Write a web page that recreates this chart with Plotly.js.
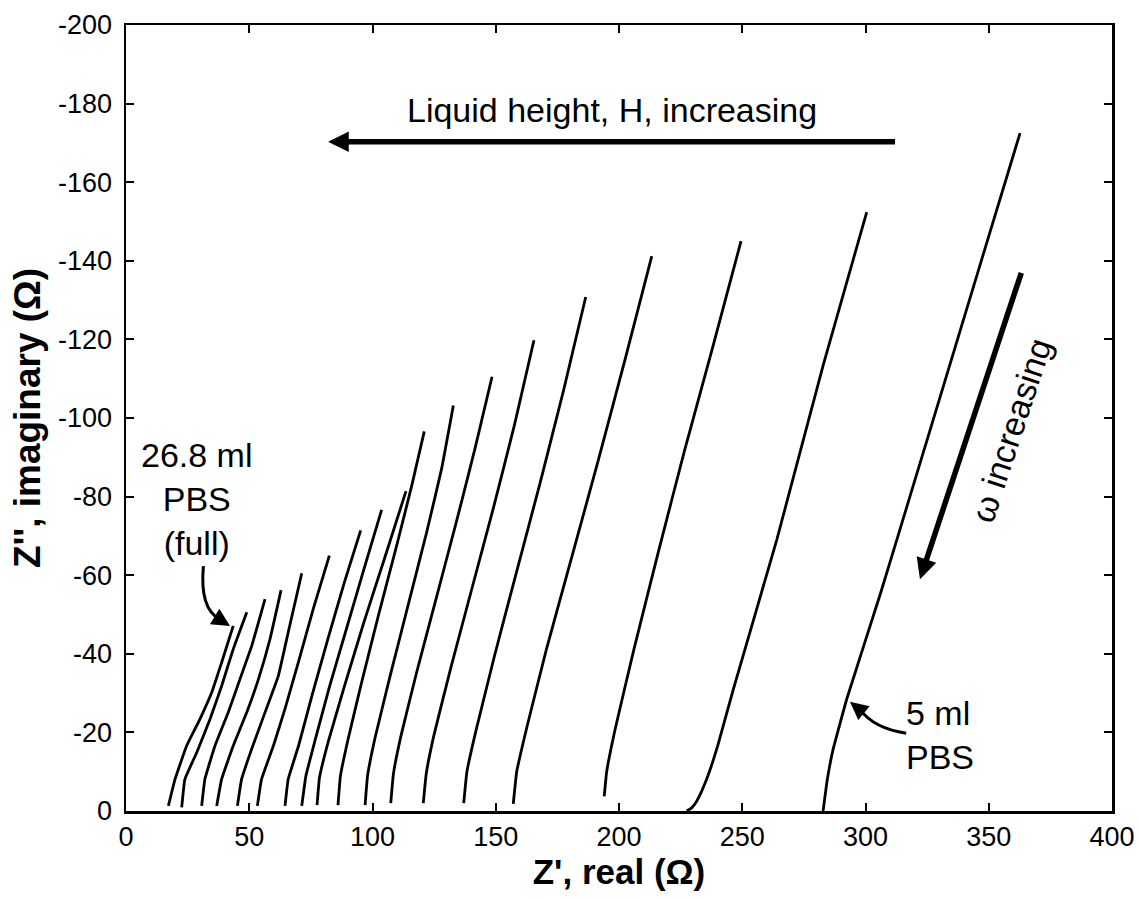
<!DOCTYPE html>
<html>
<head>
<meta charset="utf-8">
<script src="https://cdn.plot.ly/plotly-3.0.1.min.js"></script>
<style>
html,body{margin:0;padding:0;background:#fff;}
#chart{width:1139px;height:899px;}
</style>
</head>
<body>
<div id="chart"></div>
<script>
// Nyquist curves, from 26.8 ml PBS (full, leftmost) to 5 ml PBS (rightmost)
const c01x = [17.2, 19.9, 24.6, 30.0, 34.8, 38.8, 43.5];
const c01y = [-1.3, -8.1, -16.6, -23.4, -30.2, -37.8, -47.1];
const c02x = [22.6, 23.9, 28.7, 34.1, 38.8, 43.5, 49.0];
const c02y = [-0.9, -8.1, -14.9, -23.4, -31.8, -41.2, -50.6];
const c03x = [30.7, 32.0, 36.1, 41.5, 46.2, 51.0, 56.4];
const c03y = [-1.3, -8.1, -16.6, -25.1, -33.5, -42.0, -53.9];
const c04x = [36.8, 38.8, 43.5, 49.0, 53.7, 58.4, 62.9];
const c04y = [-1.3, -8.1, -16.6, -25.1, -33.5, -43.7, -56.2];
const c05x = [45.2, 46.9, 51.0, 56.4, 61.8, 66.0, 71.3];
const c05y = [-1.3, -8.1, -15.8, -25.1, -34.4, -46.0, -60.5];
const c06x = [53.3, 55.0, 59.8, 64.5, 70.0, 76.0, 82.5];
const c06y = [-1.3, -8.1, -16.6, -26.0, -38.0, -51.5, -65.0];
const c07x = [64.5, 65.8, 70.0, 75.5, 82.0, 88.5, 95.2];
const c07y = [-1.3, -8.1, -16.6, -29.5, -44.0, -58.0, -71.4];
const c08x = [71.3, 73.0, 76.5, 82.5, 89.5, 96.5, 103.7];
const c08y = [-1.3, -9.0, -17.5, -31.5, -46.5, -61.5, -76.6];
const c09x = [77.5, 78.5, 82.0, 88.5, 96.5, 105.0, 113.6];
const c09y = [-1.5, -8.5, -17.5, -31.5, -48.0, -64.5, -81.4];
const c10x = [86.0, 87.0, 90.0, 95.5, 102.5, 110.0, 116.0, 121.0];
const c10y = [-1.5, -9.0, -18.0, -32.5, -50.0, -68.0, -83.0, -96.6];
const c11x = [97.0, 98.0, 101.0, 107.0, 114.5, 122.0, 128.0, 132.8];
const c11y = [-1.5, -9.0, -18.5, -34.0, -52.5, -71.0, -87.0, -103.2];
const c12x = [107.4, 108.5, 111.5, 118.0, 126.0, 134.0, 141.5, 148.5];
const c12y = [-2.0, -9.5, -19.0, -35.5, -54.5, -73.5, -92.0, -110.5];
const c13x = [120.6, 121.8, 125.0, 132.0, 140.5, 149.0, 157.5, 165.5];
const c13y = [-2.0, -9.5, -19.5, -37.0, -57.0, -77.0, -98.0, -119.8];
const c14x = [137.0, 138.3, 142.0, 149.5, 158.5, 168.0, 177.5, 186.5];
const c14y = [-2.0, -10.0, -20.5, -39.5, -61.0, -83.5, -107.0, -130.8];
const c15x = [157.1, 158.5, 162.5, 170.5, 181.0, 191.5, 202.5, 213.3];
const c15y = [-1.8, -10.0, -21.0, -41.0, -65.0, -89.0, -115.0, -141.2];
const c16x = [194.0, 195.0, 198.5, 206.0, 216.0, 226.5, 238.0, 249.5];
const c16y = [-3.7, -10.0, -21.0, -41.0, -66.0, -91.5, -118.0, -145.0];
const c17x = [227.5, 229.5, 231.5, 233.5, 235.5, 237.5, 240.0, 246.4, 264.0, 282.9, 300.5];
const c17y = [0.0, -0.8, -2.5, -5.0, -8.0, -11.5, -16.5, -31.0, -69.0, -113.6, -152.4];
const c18x = [282.8, 284.5, 286.9, 292.4, 306.2, 318.5, 331.6, 346.3, 362.7];
const c18y = [0.0, -8.0, -15.8, -28.5, -55.6, -81.0, -108.1, -138.6, -172.5];

const xTicks = [0, 50, 100, 150, 200, 250, 300, 350, 400];
const yTicks = [0, -20, -40, -60, -80, -100, -120, -140, -160, -180, -200];

const curvesX = [c01x,c02x,c03x,c04x,c05x,c06x,c07x,c08x,c09x,c10x,c11x,c12x,c13x,c14x,c15x,c16x,c17x,c18x];
const curvesY = [c01y,c02y,c03y,c04y,c05y,c06y,c07y,c08y,c09y,c10y,c11y,c12y,c13y,c14y,c15y,c16y,c17y,c18y];

const traces = curvesX.map((xs, i) => ({
  x: xs, y: curvesY[i], type: 'scatter', mode: 'lines',
  line: {color: '#000', width: 2.8, shape: 'spline', smoothing: 0.3}, showlegend: false, hoverinfo: 'skip'
}));

const tickFont = {family: 'Liberation Sans, Arial, sans-serif', size: 27, color: '#000'};
const textFont = {family: 'Liberation Sans, Arial, sans-serif', size: 34, color: '#000'};

const layout = {
  width: 1139, height: 899,
  margin: {l: 126, r: 27, t: 25, b: 88},
  paper_bgcolor: '#fff', plot_bgcolor: '#fff',
  showlegend: false,
  xaxis: {
    range: [0, 400], tickvals: xTicks, ticktext: xTicks.map(String),
    ticks: 'inside', ticklen: 8, tickwidth: 2, tickcolor: '#000',
    showline: true, linecolor: '#000', linewidth: 2.5, mirror: 'ticks',
    showgrid: false, zeroline: false, tickfont: tickFont, ticklabelstandoff: 0,
    title: {text: "<b>Z', real (Ω)</b>", font: {family: 'Liberation Sans, Arial, sans-serif', size: 35, color: '#000'}, standoff: 8}
  },
  yaxis: {
    range: [0, -200], tickvals: yTicks, ticktext: yTicks.map(String),
    ticks: 'inside', ticklen: 8, tickwidth: 2, tickcolor: '#000',
    showline: true, linecolor: '#000', linewidth: 2.5, mirror: 'ticks',
    showgrid: false, zeroline: false, tickfont: tickFont, ticklabelstandoff: 6,
    title: {text: "<b>Z'', imaginary (Ω)</b>", font: {family: 'Liberation Sans, Arial, sans-serif', size: 37, color: '#000'}, standoff: 6}
  },
  shapes: [
    {type: 'path', xref: 'x', yref: 'y', path: 'M31.4,-62.3 Q29.8,-51.5 38.0,-48.8', line: {color: '#000', width: 3}},
    {type: 'path', xref: 'x', yref: 'y', path: 'M316.5,-19.8 Q303.5,-21.0 297.8,-25.8', line: {color: '#000', width: 3}}
  ],
  annotations: [
    {x: 197, y: -178.4, xref: 'x', yref: 'y', text: 'Liquid height, H, increasing', showarrow: false, font: textFont},
    {x: 82, y: -170.3, ax: 312.6, ay: -170.3, xref: 'x', yref: 'y', axref: 'x', ayref: 'y', text: '', showarrow: true, arrowhead: 2, arrowwidth: 5.5, arrowsize: 0.75, arrowcolor: '#000'},
    {x: 322.1, y: -59, ax: 363.4, ay: -137.3, xref: 'x', yref: 'y', axref: 'x', ayref: 'y', text: '', showarrow: true, arrowhead: 2, arrowwidth: 5.5, arrowsize: 0.75, arrowcolor: '#000'},
    {x: 359, y: -97, xref: 'x', yref: 'y', text: 'ω increasing', textangle: -71.7, showarrow: false, font: textFont},
    {x: 28.7, y: -79.5, xref: 'x', yref: 'y', text: '26.8 ml<br>PBS<br>(full)', align: 'center', showarrow: false, font: textFont},
    {x: 42.2, y: -47.1, ax: 37.5, ay: -48.9, xref: 'x', yref: 'y', axref: 'x', ayref: 'y', text: '', showarrow: true, arrowhead: 2, arrowwidth: 3, arrowsize: 1.2, arrowcolor: '#000'},
    {x: 315.5, y: -19.4, xref: 'x', yref: 'y', xanchor: 'left', text: '5 ml<br>PBS', align: 'left', showarrow: false, font: textFont},
    {x: 293.7, y: -27.8, ax: 298.2, ay: -25.5, xref: 'x', yref: 'y', axref: 'x', ayref: 'y', text: '', showarrow: true, arrowhead: 2, arrowwidth: 3, arrowsize: 1.2, arrowcolor: '#000'}
  ]
};

Plotly.newPlot('chart', traces, layout, {displayModeBar: false, staticPlot: true});
</script>
</body>
</html>
